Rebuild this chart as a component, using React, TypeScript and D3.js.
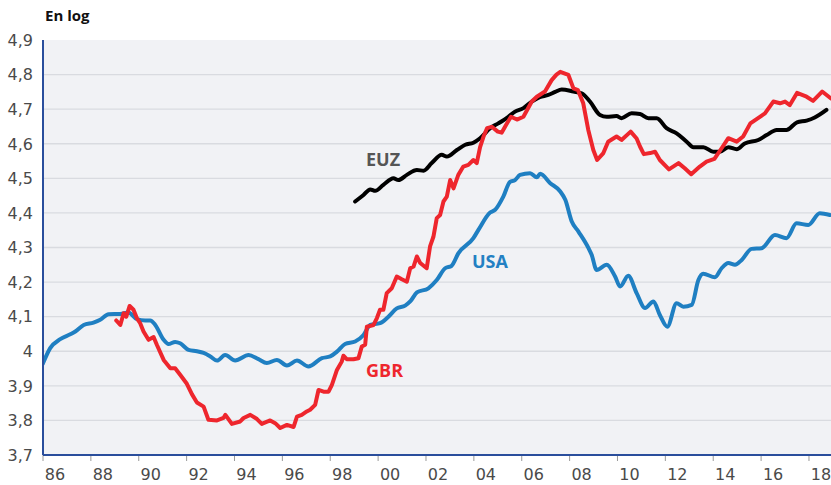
import React from "react";
import * as d3 from "d3";

// [decimal year, log value]
const usaSeries: [number, number][] = [
  [1986.0, 3.965], [1986.3, 4.009], [1986.72, 4.035], [1987.14, 4.049], [1987.35, 4.057],
  [1987.7, 4.076], [1988.11, 4.083], [1988.39, 4.091], [1988.74, 4.107], [1989.23, 4.108],
  [1989.57, 4.112], [1989.92, 4.093], [1990.27, 4.089], [1990.48, 4.089], [1990.69, 4.076],
  [1991.04, 4.033], [1991.24, 4.021], [1991.52, 4.027], [1991.73, 4.023], [1992.08, 4.004],
  [1992.43, 4.0], [1992.71, 3.995], [1992.99, 3.985], [1993.27, 3.973], [1993.61, 3.989],
  [1994.03, 3.973], [1994.59, 3.989], [1995.0, 3.977], [1995.35, 3.966], [1995.77, 3.975],
  [1996.19, 3.959], [1996.61, 3.973], [1997.09, 3.956], [1997.65, 3.98], [1998.0, 3.985],
  [1998.28, 3.999], [1998.62, 4.021], [1999.04, 4.028], [1999.39, 4.047], [1999.67, 4.076],
  [2000.08, 4.081], [2000.43, 4.1], [2000.78, 4.124], [2001.13, 4.132], [2001.34, 4.144],
  [2001.62, 4.17], [2002.1, 4.182], [2002.45, 4.206], [2002.8, 4.24], [2003.07, 4.247],
  [2003.35, 4.283], [2003.98, 4.327], [2004.19, 4.351], [2004.68, 4.401], [2004.89, 4.409],
  [2005.23, 4.447], [2005.51, 4.49], [2005.72, 4.495], [2005.93, 4.51], [2006.35, 4.515],
  [2006.63, 4.503], [2006.77, 4.513], [2007.19, 4.486], [2007.61, 4.462], [2007.82, 4.438],
  [2008.09, 4.375], [2008.37, 4.346], [2008.79, 4.298], [2008.92, 4.279], [2009.13, 4.235],
  [2009.55, 4.25], [2009.9, 4.216], [2010.11, 4.187], [2010.45, 4.218], [2010.8, 4.168],
  [2011.15, 4.125], [2011.5, 4.144], [2011.77, 4.105], [2012.08, 4.071], [2012.47, 4.139],
  [2012.75, 4.129], [2013.1, 4.134], [2013.38, 4.206], [2013.58, 4.224], [2014.07, 4.214],
  [2014.35, 4.24], [2014.63, 4.255], [2014.91, 4.25], [2015.19, 4.264], [2015.6, 4.296],
  [2016.02, 4.298], [2016.58, 4.336], [2017.06, 4.327], [2017.48, 4.37], [2017.97, 4.365],
  [2018.45, 4.399], [2018.87, 4.394],
];

const gbrSeries: [number, number][] = [
  [1989.06, 4.089], [1989.23, 4.076], [1989.37, 4.11], [1989.48, 4.1], [1989.62, 4.131],
  [1989.78, 4.12], [1989.92, 4.096], [1990.06, 4.081], [1990.2, 4.057], [1990.41, 4.033],
  [1990.62, 4.041], [1990.76, 4.018], [1991.04, 3.975], [1991.32, 3.951], [1991.52, 3.951],
  [1991.73, 3.932], [1992.01, 3.906], [1992.22, 3.876], [1992.43, 3.852], [1992.71, 3.84],
  [1992.91, 3.802], [1993.27, 3.8], [1993.54, 3.807], [1993.62, 3.816], [1993.89, 3.79],
  [1994.24, 3.797], [1994.38, 3.807], [1994.66, 3.816], [1994.94, 3.804], [1995.14, 3.79],
  [1995.49, 3.8], [1995.7, 3.792], [1995.91, 3.778], [1996.19, 3.787], [1996.47, 3.781],
  [1996.61, 3.811], [1996.81, 3.816], [1997.02, 3.826], [1997.16, 3.831], [1997.37, 3.845],
  [1997.51, 3.888], [1997.72, 3.883], [1997.93, 3.883], [1998.07, 3.903], [1998.28, 3.946],
  [1998.48, 3.97], [1998.55, 3.987], [1998.69, 3.977], [1998.97, 3.977], [1999.18, 3.98],
  [1999.32, 4.014], [1999.46, 4.019], [1999.53, 4.071], [1999.81, 4.076], [1999.95, 4.096],
  [2000.08, 4.12], [2000.22, 4.12], [2000.36, 4.168], [2000.57, 4.182], [2000.78, 4.216],
  [2000.99, 4.208], [2001.2, 4.201], [2001.34, 4.24], [2001.48, 4.245], [2001.62, 4.274],
  [2001.76, 4.255], [2002.03, 4.24], [2002.17, 4.303], [2002.31, 4.331], [2002.45, 4.385],
  [2002.59, 4.394], [2002.73, 4.433], [2002.87, 4.447], [2003.01, 4.495], [2003.15, 4.471],
  [2003.35, 4.51], [2003.56, 4.534], [2003.77, 4.539], [2003.98, 4.553], [2004.12, 4.544],
  [2004.26, 4.59], [2004.4, 4.62], [2004.55, 4.645], [2004.75, 4.649], [2005.0, 4.635],
  [2005.16, 4.632], [2005.35, 4.655], [2005.55, 4.678], [2005.8, 4.67], [2006.07, 4.678],
  [2006.42, 4.722], [2006.63, 4.736], [2006.97, 4.751], [2007.25, 4.784], [2007.45, 4.8],
  [2007.61, 4.808], [2007.95, 4.799], [2008.16, 4.76], [2008.35, 4.755], [2008.57, 4.717],
  [2008.78, 4.64], [2008.99, 4.582], [2009.15, 4.553], [2009.41, 4.573], [2009.61, 4.606],
  [2009.96, 4.621], [2010.17, 4.611], [2010.55, 4.635], [2010.8, 4.615], [2010.94, 4.592],
  [2011.1, 4.57], [2011.36, 4.573], [2011.57, 4.577], [2011.77, 4.553], [2012.15, 4.526],
  [2012.55, 4.544], [2012.81, 4.529], [2013.08, 4.512], [2013.44, 4.534], [2013.72, 4.548],
  [2014.05, 4.556], [2014.35, 4.587], [2014.63, 4.616], [2014.98, 4.606], [2015.25, 4.621],
  [2015.55, 4.659], [2015.95, 4.678], [2016.16, 4.688], [2016.51, 4.722], [2016.79, 4.717],
  [2017.0, 4.722], [2017.2, 4.712], [2017.5, 4.747], [2017.9, 4.736], [2018.17, 4.724],
  [2018.55, 4.751], [2018.92, 4.731],
];

const euzSeries: [number, number][] = [
  [1999.04, 4.433], [1999.39, 4.452], [1999.67, 4.468], [1999.88, 4.464], [2000.22, 4.481],
  [2000.64, 4.5], [2000.85, 4.495], [2001.2, 4.51], [2001.62, 4.524], [2001.9, 4.522],
  [2002.24, 4.544], [2002.66, 4.568], [2002.87, 4.563], [2003.29, 4.582], [2003.64, 4.597],
  [2003.98, 4.603], [2004.26, 4.616], [2004.68, 4.645], [2005.02, 4.659], [2005.44, 4.678],
  [2005.72, 4.693], [2006.07, 4.703], [2006.42, 4.722], [2006.75, 4.735], [2007.11, 4.741],
  [2007.4, 4.75], [2007.67, 4.757], [2008.16, 4.751], [2008.5, 4.746], [2008.85, 4.722],
  [2009.27, 4.683], [2009.55, 4.678], [2009.96, 4.68], [2010.17, 4.674], [2010.59, 4.688],
  [2010.94, 4.686], [2011.29, 4.674], [2011.64, 4.674], [2012.05, 4.645], [2012.47, 4.63],
  [2012.89, 4.606], [2013.17, 4.59], [2013.59, 4.59], [2014.0, 4.577], [2014.28, 4.577],
  [2014.63, 4.59], [2014.98, 4.584], [2015.32, 4.601], [2015.88, 4.611], [2016.23, 4.625],
  [2016.65, 4.64], [2017.06, 4.64], [2017.5, 4.662], [2017.9, 4.667], [2018.24, 4.676],
  [2018.73, 4.698],
];

const yTicks = [3.7, 3.8, 3.9, 4.0, 4.1, 4.2, 4.3, 4.4, 4.5, 4.6, 4.7, 4.8, 4.9];
const xTickYears = [1986, 1988, 1990, 1992, 1994, 1996, 1998, 2000, 2002, 2004, 2006, 2008, 2010, 2012, 2014, 2016, 2018];
const xTickLabels = ["86", "88", "90", "92", "94", "96", "98", "00", "02", "04", "06", "08", "10", "12", "14", "16", "18"];

const W = 831;
const H = 485;
const left = 43;
const right = 831;
const top = 40;
const bottom = 455;

export default function App() {
  const x = d3.scaleLinear().domain([1986, 2018.92]).range([left, right]);
  const y = d3.scaleLinear().domain([3.7, 4.9]).range([bottom, top]);

  const smooth = d3
    .line<[number, number]>()
    .x((d) => x(d[0]))
    .y((d) => y(d[1]))
    .curve(d3.curveMonotoneX);
  const jagged = d3
    .line<[number, number]>()
    .x((d) => x(d[0]))
    .y((d) => y(d[1]))
    .curve(d3.curveLinear);

  const fmt = (v: number) => (Math.abs(v - 4) < 1e-9 ? "4" : v.toFixed(1).replace(".", ","));
  const tickFont = "'DejaVu Sans', sans-serif";

  return (
    <svg width={W} height={H} style={{ position: "absolute", left: 0, top: 0, background: "#fff" }}>
      <defs>
        <clipPath id="plotclip">
          <rect x={left} y={top - 5} width={right - left} height={bottom - top + 5} />
        </clipPath>
      </defs>
      <rect x={left} y={top} width={right - left} height={bottom - top} fill="#f1f2f5" />
      {yTicks
        .filter((t) => t > 3.75 && t < 4.85)
        .map((t) => (
          <line key={"g" + t} x1={left} x2={right} y1={y(t)} y2={y(t)} stroke="#d9dbe0" strokeWidth={1.3} />
        ))}
      {yTicks.map((t) => (
        <text
          key={"yl" + t}
          x={33}
          y={y(t)}
          dy="0.36em"
          textAnchor="end"
          fontFamily={tickFont}
          fontSize={16}
          fill="#4a4a4a"
        >
          {fmt(t)}
        </text>
      ))}
      {xTickYears.map((yr, i) => (
        <g key={"xt" + yr}>
          <line x1={x(yr)} x2={x(yr)} y1={bottom} y2={bottom + 6} stroke="#9a9a9a" strokeWidth={1} />
          <text
            x={x(yr + 0.5)}
            y={480}
            textAnchor="middle"
            fontFamily={tickFont}
            fontSize={16}
            fill="#4a4a4a"
          >
            {xTickLabels[i]}
          </text>
        </g>
      ))}
      <g clipPath="url(#plotclip)" fill="none" strokeLinejoin="round" strokeLinecap="round">
        <path d={smooth(usaSeries) || ""} stroke="#1f7fc2" strokeWidth={4} />
        <path d={smooth(euzSeries) || ""} stroke="#000000" strokeWidth={4} />
        <path d={jagged(gbrSeries) || ""} stroke="#ee262d" strokeWidth={4} />
      </g>
      <line x1={left} x2={left} y1={top} y2={bottom} stroke="#2a4e9c" strokeWidth={2} />
      <line x1={left} x2={right} y1={bottom} y2={bottom} stroke="#2a4e9c" strokeWidth={2} />
      <text x={45} y={21} fontFamily="'Open Sans', sans-serif" fontWeight={700} fontSize={15} fill="#111">
        En log
      </text>
      <text x={366} y={166} fontFamily="'Open Sans', sans-serif" fontWeight={700} fontSize={18} fill="#555555">
        EUZ
      </text>
      <text x={472} y={268} fontFamily="'Open Sans', sans-serif" fontWeight={700} fontSize={18} fill="#2380c3">
        USA
      </text>
      <text x={366} y={377} fontFamily="'Open Sans', sans-serif" fontWeight={700} fontSize={18} fill="#ee262d">
        GBR
      </text>
    </svg>
  );
}
